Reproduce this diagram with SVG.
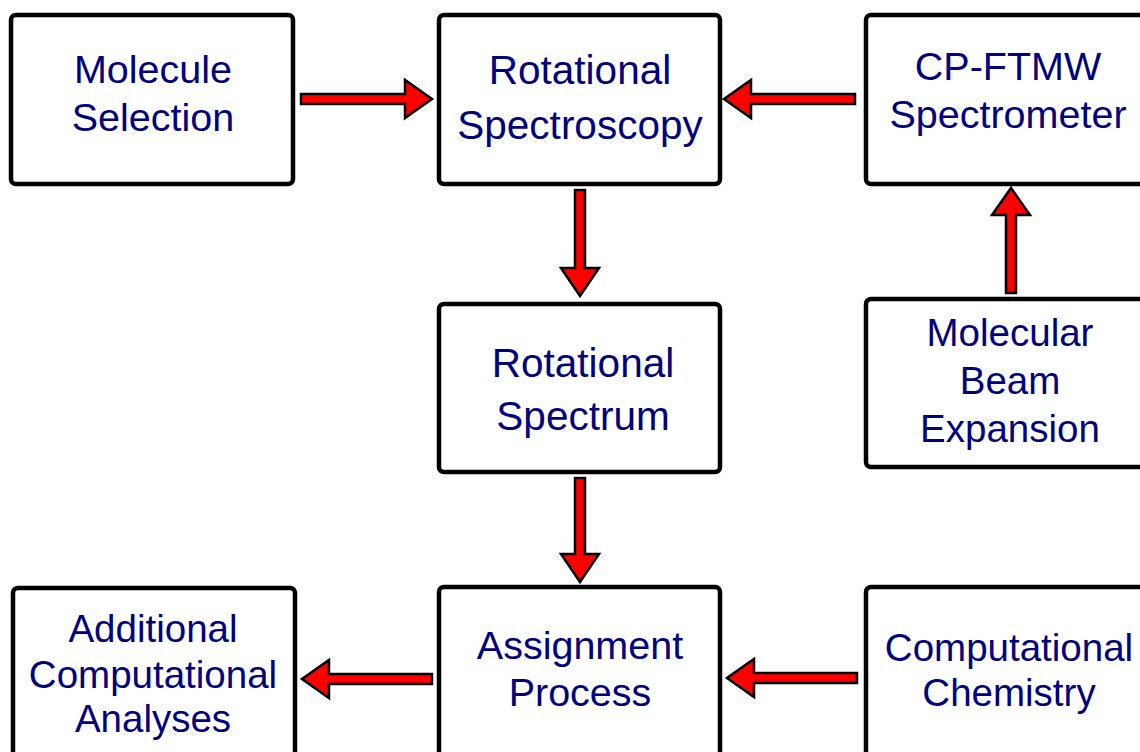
<svg xmlns="http://www.w3.org/2000/svg" width="1140" height="752" viewBox="0 0 1140 752">
<style>
.box{fill:#ffffff;stroke:#000000;stroke-width:4.5}
.lbl{font-family:"Liberation Sans",Arial,sans-serif;font-size:38.5px;fill:#000080;text-anchor:middle}
.mid{font-size:39.5px}
.big{font-size:40.5px}
.arr{fill:#ff0000;stroke:#000000;stroke-width:2.5;stroke-linejoin:miter}
</style>
<rect width="1140" height="752" fill="#ffffff"/>
<g id="molecule-selection">
<rect class="box" x="11" y="15" width="282" height="169" rx="5"/>
<text class="lbl mid" x="153" y="83">Molecule</text>
<text class="lbl mid" x="153" y="131">Selection</text>
</g>
<g id="rotational-spectroscopy">
<rect class="box" x="439" y="15" width="281" height="169" rx="5"/>
<text class="lbl big" x="580" y="84">Rotational</text>
<text class="lbl big" x="580" y="139">Spectroscopy</text>
</g>
<g id="cp-ftmw">
<rect class="box" x="866" y="15" width="284" height="169" rx="5"/>
<text class="lbl mid" x="1008" y="80">CP-FTMW</text>
<text class="lbl mid" x="1008" y="128">Spectrometer</text>
</g>
<g id="rotational-spectrum">
<rect class="box" x="439" y="304" width="281" height="168" rx="5"/>
<text class="lbl big" x="583" y="377">Rotational</text>
<text class="lbl big" x="583" y="430">Spectrum</text>
</g>
<g id="molecular-beam">
<rect class="box" x="866" y="299" width="284" height="168" rx="5"/>
<text class="lbl" x="1010" y="346">Molecular</text>
<text class="lbl" x="1010" y="394">Beam</text>
<text class="lbl" x="1010" y="442">Expansion</text>
</g>
<g id="additional-analyses">
<rect class="box" x="13" y="588" width="282" height="180" rx="5"/>
<text class="lbl" x="153" y="642">Additional</text>
<text class="lbl" x="153" y="688">Computational</text>
<text class="lbl" x="153" y="732">Analyses</text>
</g>
<g id="assignment-process">
<rect class="box" x="439" y="587" width="281" height="180" rx="5"/>
<text class="lbl mid" x="580" y="659">Assignment</text>
<text class="lbl mid" x="580" y="706">Process</text>
</g>
<g id="computational-chemistry">
<rect class="box" x="866" y="587" width="284" height="180" rx="5"/>
<text class="lbl" x="1009" y="661">Computational</text>
<text class="lbl" x="1009" y="706">Chemistry</text>
</g>
<g id="connectors">
<polygon class="arr" points="301,94 405,94 405,80 432,99 405,118 405,104 301,104"/>
<polygon class="arr" points="855,94 751,94 751,80 724,99 751,118 751,104 855,104"/>
<polygon class="arr" points="575,190 585,190 585,268 599,268 580,296 561,268 575,268"/>
<polygon class="arr" points="575,478 585,478 585,554 599,554 580,582 561,554 575,554"/>
<polygon class="arr" points="1006,293 1016,293 1016,215 1030,215 1011,188 992,215 1006,215"/>
<polygon class="arr" points="432,674 329,674 329,660 302,679 329,698 329,684 432,684"/>
<polygon class="arr" points="857,673 754,673 754,659 727,678 754,697 754,683 857,683"/>
</g>
</svg>
